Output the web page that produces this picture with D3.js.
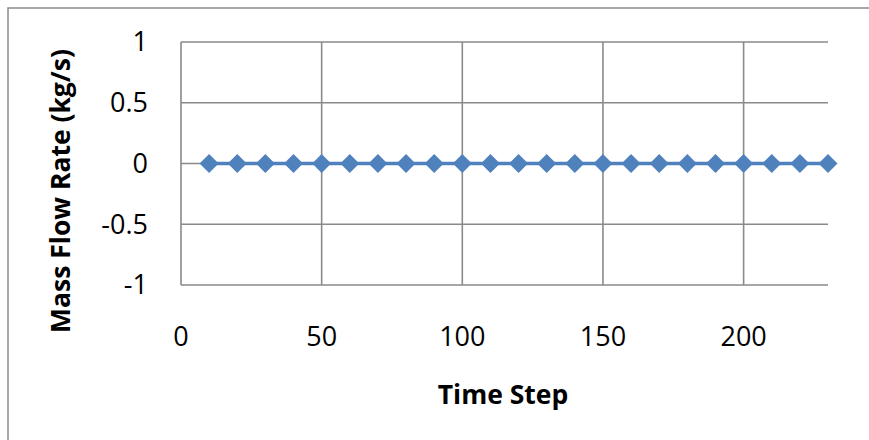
<!DOCTYPE html>
<html><head><meta charset="utf-8">
<script src="https://cdn.jsdelivr.net/npm/d3@7"></script>
<style>body{margin:0;background:#fff;overflow:hidden}svg{display:block}text{font-family:"Open Sans","Noto Sans",sans-serif}</style>
</head><body><svg id="c" width="869" height="440"></svg>
<script>
const timeSteps = [10,20,30,40,50,60,70,80,90,100,110,120,130,140,150,160,170,180,190,200,210,220,230];
const massFlow  = [0,0,0,0,0,0,0,0,0,0,0,0,0,0,0,0,0,0,0,0,0,0,0];
const xTicks = [0,50,100,150,200];
const yTicks = [-1,-0.5,0,0.5,1];
const xTitle = "Time Step";
const yTitle = "Mass Flow Rate (kg/s)";

const svg = d3.select("#c");
const L=181, R=828, T=42, B=285;
const x = d3.scaleLinear().domain([0,230]).range([L,R]);
const y = d3.scaleLinear().domain([-1,1]).range([B,T]);
const grid="#8a8a8a", blue="#4f81bd";

// outer border (only left and top visible in frame)
svg.append("path").attr("d","M8,440 L8,8 L869,8")
  .attr("fill","none").attr("stroke",grid).attr("stroke-width",1.5);

// horizontal grid
svg.append("g").selectAll("line").data(yTicks).join("line")
  .attr("x1",L).attr("x2",R).attr("y1",d=>y(d)).attr("y2",d=>y(d))
  .attr("stroke",grid).attr("stroke-width",1.6);
// vertical grid
svg.append("g").selectAll("line").data(xTicks).join("line")
  .attr("x1",d=>x(d)).attr("x2",d=>x(d)).attr("y1",T).attr("y2",B)
  .attr("stroke",grid).attr("stroke-width",1.6);

// y tick labels
svg.append("g").selectAll("text").data(yTicks).join("text")
  .attr("x",148).attr("y",d=>y(d)).attr("dy","0.35em").attr("text-anchor","end")
  .attr("font-size",27).attr("fill","#000").text(d=>d);
// x tick labels
svg.append("g").selectAll("text").data(xTicks).join("text")
  .attr("x",d=>x(d)).attr("y",337).attr("dy","0.35em").attr("text-anchor","middle")
  .attr("font-size",27).attr("fill","#000").text(d=>d);

// titles
svg.append("text").attr("x",503).attr("y",404).attr("text-anchor","middle")
  .attr("font-size",26.5).attr("font-weight","bold").text(xTitle);
svg.append("text").attr("transform","translate(70,191) rotate(-90)").attr("text-anchor","middle")
  .attr("font-size",26.5).attr("font-weight","bold").text(yTitle);

// series
const data = timeSteps.map((t,i)=>({t, v:massFlow[i]}));
svg.append("path").datum(data)
  .attr("d", d3.line().x(d=>x(d.t)).y(d=>y(d.v)))
  .attr("fill","none").attr("stroke",blue).attr("stroke-width",3.5);
svg.append("g").selectAll("path").data(data).join("path")
  .attr("transform",d=>`translate(${x(d.t)},${y(d.v)}) rotate(45)`)
  .attr("d",d3.symbol().type(d3.symbolSquare).size(180))
  .attr("fill",blue);
</script></body></html>
